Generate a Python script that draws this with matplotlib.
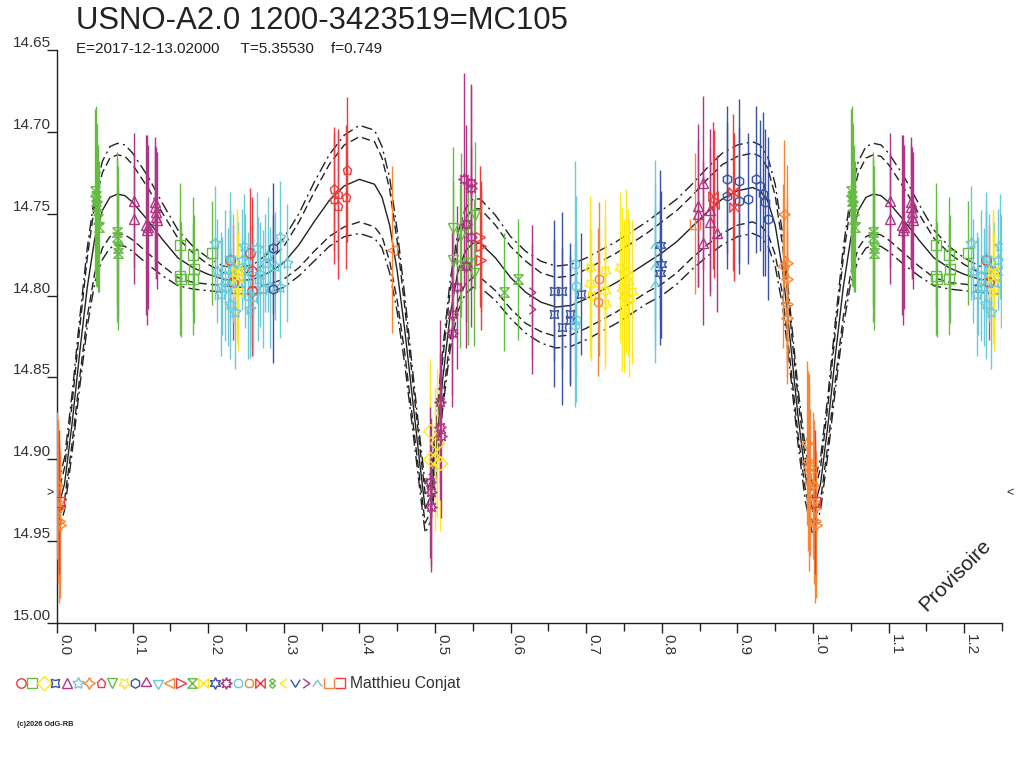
import numpy as np
import matplotlib
matplotlib.use("Agg")
import matplotlib.pyplot as plt
from matplotlib.ticker import MultipleLocator, FormatStrFormatter

plt.rcParams['font.family'] = ['Liberation Sans', 'DejaVu Sans']

TITLE = "USNO-A2.0 1200-3423519=MC105"
SUBTITLE = "E=2017-12-13.02000     T=5.35530    f=0.749"
OBSERVER = "Matthieu Conjat"
COPYRIGHT = "(c)2026 OdG-RB"

# mean light curve over one phase, with the two envelopes (dashed, dash-dot)
curve_phase = [0.00, 0.01, 0.02, 0.03, 0.04, 0.05, 0.06, 0.07, 0.08, 0.09,
               0.10, 0.12, 0.14, 0.16, 0.18, 0.20, 0.22, 0.24, 0.26, 0.28,
               0.30, 0.32, 0.34, 0.36, 0.38, 0.40, 0.42, 0.43, 0.44, 0.45,
               0.46, 0.47, 0.48, 0.487, 0.495, 0.50, 0.51, 0.52, 0.53, 0.54,
               0.55, 0.56, 0.58, 0.60, 0.62, 0.64, 0.66, 0.68, 0.70, 0.72,
               0.74, 0.76, 0.78, 0.80, 0.82, 0.84, 0.86, 0.88, 0.90, 0.92,
               0.93, 0.94, 0.95, 0.96, 0.97, 0.98, 0.99, 1.00]
curve_mag = [14.932, 14.915, 14.878, 14.835, 14.795, 14.765, 14.748, 14.740, 14.738, 14.739,
             14.743, 14.754, 14.766, 14.777, 14.783, 14.787, 14.790, 14.791, 14.790, 14.786,
             14.780, 14.769, 14.755, 14.742, 14.733, 14.729, 14.732, 14.740, 14.757, 14.785,
             14.821, 14.862, 14.903, 14.930, 14.922, 14.900, 14.852, 14.812, 14.786, 14.773,
             14.768, 14.768, 14.777, 14.789, 14.798, 14.804, 14.807, 14.806, 14.802, 14.797,
             14.792, 14.786, 14.780, 14.774, 14.767, 14.758, 14.749, 14.741, 14.736, 14.734,
             14.736, 14.742, 14.757, 14.785, 14.828, 14.873, 14.910, 14.932]
curve_sig1 = [0.008, 0.010, 0.012, 0.015, 0.018, 0.021, 0.023, 0.024, 0.024, 0.024,
              0.023, 0.020, 0.016, 0.012, 0.009, 0.006, 0.004, 0.004, 0.005, 0.007,
              0.010, 0.014, 0.018, 0.022, 0.025, 0.026, 0.026, 0.024, 0.022, 0.018,
              0.014, 0.012, 0.010, 0.009, 0.009, 0.010, 0.012, 0.015, 0.018, 0.020,
              0.021, 0.021, 0.020, 0.019, 0.019, 0.018, 0.018, 0.018, 0.018, 0.018,
              0.018, 0.018, 0.018, 0.019, 0.019, 0.019, 0.020, 0.021, 0.021, 0.021,
              0.021, 0.020, 0.018, 0.015, 0.013, 0.011, 0.009, 0.008]
curve_sig2 = [0.015, 0.016, 0.018, 0.021, 0.024, 0.027, 0.030, 0.031, 0.031, 0.031,
              0.030, 0.027, 0.022, 0.017, 0.013, 0.010, 0.008, 0.008, 0.009, 0.012,
              0.015, 0.019, 0.024, 0.028, 0.031, 0.033, 0.033, 0.031, 0.029, 0.025,
              0.021, 0.018, 0.016, 0.015, 0.015, 0.016, 0.018, 0.021, 0.024, 0.026,
              0.027, 0.027, 0.026, 0.025, 0.025, 0.025, 0.025, 0.025, 0.025, 0.025,
              0.025, 0.025, 0.025, 0.026, 0.026, 0.026, 0.027, 0.028, 0.028, 0.028,
              0.028, 0.027, 0.025, 0.022, 0.019, 0.017, 0.016, 0.015]

# observations: symbol index, phase, magnitude, error
obs_series = ([6] * 16 + [28] + [15] * 12 + [4] * 17 + [1] * 7 + [5] * 28 + [0] * 5
              + [16] * 3 + [10] * 12 + [7] * 6 + [13] + [18] * 15 + [2] * 5 + [8] * 7
              + [14] * 3 + [25] * 2 + [3] * 7 + [19] * 4 + [9] * 13 + [20] * 2
              + [26] * 3 + [17] * 3 + [27] + [21] * 4)
obs_phase = [
    0.000, 0.001, 0.002, 0.003, 0.004, 0.961, 0.966, 0.960, 0.966, 0.966, 0.965,
    0.992, 0.993, 0.995, 0.995, 0.996,
    0.003,
    0.050, 0.051, 0.052, 0.053, 0.054, 0.055, 0.080, 0.080, 0.081, 0.081, 0.591, 0.610,
    0.102, 0.102, 0.118, 0.119, 0.120, 0.130, 0.130, 0.131, 0.131, 0.132,
    0.848, 0.848, 0.855, 0.855, 0.864, 0.864, 0.873,
    0.163, 0.163, 0.164, 0.180, 0.181, 0.180, 0.205,
    0.209, 0.211, 0.217, 0.218, 0.226, 0.229, 0.229, 0.233, 0.240, 0.245,
    0.249, 0.252, 0.255, 0.259, 0.264, 0.266, 0.269, 0.272, 0.275, 0.279,
    0.282, 0.288, 0.295, 0.295, 0.304, 0.222, 0.236, 0.247,
    0.229, 0.233, 0.255, 0.258, 0.258,
    0.238, 0.238, 0.239,
    0.286, 0.286, 0.886, 0.886, 0.902, 0.902, 0.914, 0.925, 0.930, 0.934, 0.937, 0.940,
    0.366, 0.366, 0.372, 0.372, 0.382, 0.384,
    0.443,
    0.494, 0.495, 0.495, 0.506, 0.507, 0.508, 0.522, 0.522, 0.529, 0.538,
    0.547, 0.547, 0.541, 0.547, 0.541,
    0.493, 0.502, 0.493, 0.500, 0.506,
    0.524, 0.535, 0.553, 0.524, 0.533, 0.543, 0.552,
    0.560, 0.561, 0.561,
    0.628, 0.628,
    0.657, 0.668, 0.657, 0.668, 0.679, 0.679, 0.693,
    0.685, 0.686, 0.686, 0.685,
    0.705, 0.705, 0.706, 0.725, 0.725, 0.725, 0.745, 0.748, 0.750, 0.752,
    0.755, 0.757, 0.760,
    0.717, 0.716,
    0.791, 0.791, 0.791,
    0.798, 0.799, 0.797,
    0.844,
    0.868, 0.869, 0.894, 0.895,
]
obs_mag = [
    14.916, 14.926, 14.930, 14.938, 14.940, 14.750, 14.780, 14.782, 14.790, 14.805, 14.814,
    14.890, 14.901, 14.905, 14.908, 14.914,
    14.926,
    14.736, 14.739, 14.742, 14.745, 14.753, 14.758, 14.761, 14.764, 14.771, 14.774, 14.798, 14.790,
    14.742, 14.753, 14.757, 14.760, 14.758, 14.743, 14.746, 14.749, 14.752, 14.754,
    14.745, 14.750, 14.731, 14.768, 14.748, 14.755, 14.762,
    14.769, 14.788, 14.790, 14.775, 14.784, 14.790, 14.774,
    14.768, 14.785, 14.799, 14.794, 14.795, 14.805, 14.777, 14.783, 14.792, 14.778,
    14.785, 14.800, 14.808, 14.801, 14.771, 14.790, 14.787, 14.796, 14.780, 14.775,
    14.795, 14.782, 14.764, 14.795, 14.780, 14.788, 14.810, 14.770,
    14.778, 14.792, 14.774, 14.785, 14.797,
    14.785, 14.789, 14.798,
    14.771, 14.796, 14.729, 14.739, 14.730, 14.742, 14.741, 14.729, 14.733, 14.738, 14.743, 14.753,
    14.735, 14.741, 14.738, 14.745, 14.740, 14.723,
    14.772,
    14.914, 14.920, 14.929, 14.865, 14.880, 14.886, 14.823, 14.811, 14.795, 14.729,
    14.731, 14.734, 14.756, 14.764, 14.782,
    14.883, 14.890, 14.900, 14.900, 14.902,
    14.759, 14.763, 14.751, 14.778, 14.782, 14.780, 14.786,
    14.764, 14.770, 14.778,
    14.798, 14.808,
    14.797, 14.797, 14.811, 14.819, 14.811, 14.815, 14.799,
    14.781, 14.794, 14.815, 14.818,
    14.783, 14.793, 14.800, 14.785, 14.797, 14.805, 14.783, 14.796, 14.800, 14.785,
    14.792, 14.802, 14.798,
    14.790, 14.804,
    14.769, 14.782, 14.793,
    14.769, 14.781, 14.786,
    14.756,
    14.739, 14.744, 14.737, 14.746,
]
obs_err = [
    0.045, 0.050, 0.040, 0.050, 0.045, 0.045, 0.060, 0.050, 0.050, 0.045, 0.040,
    0.050, 0.055, 0.050, 0.060, 0.045,
    0.044,
    0.050, 0.055, 0.048, 0.050, 0.045, 0.040, 0.045, 0.052, 0.050, 0.040, 0.036, 0.037,
    0.041, 0.040, 0.055, 0.058, 0.050, 0.040, 0.038, 0.040, 0.038, 0.042,
    0.050, 0.045, 0.053, 0.050, 0.050, 0.045, 0.048,
    0.038, 0.036, 0.035, 0.035, 0.033, 0.034, 0.032,
    0.035, 0.032, 0.038, 0.030, 0.036, 0.034, 0.040, 0.033, 0.037, 0.031,
    0.035, 0.039, 0.030, 0.036, 0.034, 0.038, 0.032, 0.036, 0.030, 0.035,
    0.037, 0.033, 0.034, 0.031, 0.036, 0.040, 0.035, 0.032,
    0.030, 0.035, 0.040, 0.045, 0.040,
    0.038, 0.040, 0.036,
    0.040, 0.045, 0.045, 0.045, 0.050, 0.045, 0.040, 0.045, 0.040, 0.050, 0.045, 0.050,
    0.038, 0.040, 0.040, 0.045, 0.044, 0.044,
    0.051,
    0.046, 0.045, 0.040, 0.050, 0.045, 0.050, 0.045, 0.050, 0.050, 0.065,
    0.060, 0.062, 0.060, 0.055, 0.050,
    0.044, 0.045, 0.040, 0.044, 0.042,
    0.050, 0.050, 0.045, 0.048, 0.050, 0.050, 0.045,
    0.043, 0.040, 0.043,
    0.041, 0.040,
    0.043, 0.048, 0.045, 0.048, 0.043, 0.040, 0.037,
    0.063, 0.055, 0.050, 0.050,
    0.044, 0.045, 0.040, 0.044, 0.045, 0.040, 0.046, 0.050, 0.047, 0.050,
    0.045, 0.048, 0.044,
    0.047, 0.045,
    0.052, 0.050, 0.048,
    0.046, 0.045, 0.044,
    0.043,
    0.045, 0.045, 0.048, 0.045,
]

PALETTE = ['#ee3b3b', '#66bb44', '#ffe81a', '#3a52a4', '#b03585', '#6cc9d8', '#f5873a']
MARKERS = [
    'o', 's', 'D', (4, 1, 45), '^', (5, 1, 0), (4, 1, 0), 'p', 'v', (5, 1, 180),
    'h', (3, 1, 0), (3, 1, 180), '<', '>',
    [(-1, 1), (1, 1), (-1, -1), (1, -1), (-1, 1)],
    [(-1, 1), (-1, -1), (1, 1), (1, -1), (-1, 1)],
    (6, 1, 0), (8, 1, 0), '8', '8',
    [(-1, 1), (-1, -1), (1, 1), (1, -1), (-1, 1)],
    [(0, 1), (-0.6, 0.5), (0.6, -0.5), (0, -1), (-0.6, -0.5), (0.6, 0.5), (0, 1)],
    [(0.7, 1), (-0.7, 0), (0.7, -1)],
    [(-1, 0.8), (0, -0.8), (1, 0.8)],
    [(-0.7, 1), (0.7, 0), (-0.7, -1)],
    [(-1, -0.7), (0, 0.7), (1, -0.7)],
    [(-1, 1), (-1, -1), (1, -1), (1, 1)],
    [(-1, 1), (1, 1), (1, -1), (-1, -1)],
]
INK = '#222222'


def marker_size(mk):
    # star-type symbols look small at the same nominal size
    if isinstance(mk, tuple) and mk[1] == 1:
        return 8.5
    return 6.8


fig = plt.figure(figsize=(10.24, 7.68), dpi=100)
ax = fig.add_axes([57 / 1024, 145 / 768, 945 / 1024, 573 / 768])

# curve, repeated past phase 1
cp = np.array(curve_phase)
cm = np.array(curve_mag)
s1 = np.array(curve_sig1)
s2 = np.array(curve_sig2)
rep = cp <= 0.26
cp = np.concatenate([cp, cp[rep][1:] + 1])
cm = np.concatenate([cm, cm[rep][1:]])
s1 = np.concatenate([s1, s1[rep][1:]])
s2 = np.concatenate([s2, s2[rep][1:]])
ax.plot(cp, cm, color=INK, lw=1.0, zorder=3)
for sign in (-1, 1):
    ax.plot(cp, cm + sign * s1, color=INK, lw=1.0, ls=(0, (6, 3)), zorder=3)
    ax.plot(cp, cm + sign * s2, color=INK, lw=1.0, ls=(0, (8, 3, 1.5, 3)), zorder=3)

# observations, those with phase <= 0.25 repeated after phase 1
ser = np.array(obs_series)
ph = np.array(obs_phase)
mg = np.array(obs_mag)
er = np.array(obs_err)
wrap = ph <= 0.25
ser = np.concatenate([ser, ser[wrap]])
ph = np.concatenate([ph, ph[wrap] + 1])
mg = np.concatenate([mg, mg[wrap]])
er = np.concatenate([er, er[wrap]])

for s in np.unique(ser):
    m = ser == s
    col = PALETTE[s % 7]
    ax.vlines(ph[m], mg[m] - er[m], mg[m] + er[m], color=col, lw=1.0, zorder=4)
    ax.plot(ph[m], mg[m], ls='none', marker=MARKERS[s], ms=marker_size(MARKERS[s]),
            mfc='none', mec=col, mew=1.0, zorder=5)

ax.set_xlim(0, 1.25)
ax.set_ylim(15.00, 14.65)
for side in ('top', 'right'):
    ax.spines[side].set_visible(False)
for side in ('left', 'bottom'):
    ax.spines[side].set_color(INK)
    ax.spines[side].set_linewidth(1.0)

ax.xaxis.set_major_locator(MultipleLocator(0.1))
ax.xaxis.set_minor_locator(MultipleLocator(0.05))
ax.xaxis.set_major_formatter(FormatStrFormatter('%.1f'))
ax.yaxis.set_major_locator(MultipleLocator(0.05))
ax.yaxis.set_major_formatter(FormatStrFormatter('%.2f'))
ax.tick_params(axis='both', which='major', direction='out', length=7.2, width=1,
               color=INK, labelcolor='#333333', labelsize=11)
ax.tick_params(axis='x', which='minor', direction='out', length=5.8, width=1, color=INK)
ax.tick_params(axis='x', which='major', labelrotation=270, pad=1)
ax.tick_params(axis='y', which='major', pad=-2.9)
for lbl in ax.get_xticklabels():
    lbl.set_ha('left')
    lbl.set_va('top')
for lbl in ax.get_yticklabels():
    lbl.set_va('bottom')

ax.text(-0.005, 14.9206, '>', ha='right', va='center', fontsize=9, color=INK, clip_on=False)
ax.text(1.256, 14.9206, '<', ha='left', va='center', fontsize=9, color=INK, clip_on=False)
ax.text(0.950, 0.084, 'Provisoire', transform=ax.transAxes, rotation=45,
        ha='center', va='center', fontsize=15, color=INK)

fig.text(76 / 1024, 1 - 29 / 768, TITLE, fontsize=22.4, color=INK, va='baseline')
fig.text(76 / 1024, 1 - 53 / 768, SUBTITLE, fontsize=11, color=INK, va='baseline')

# symbol legend along the bottom
leg = fig.add_axes([0, 0, 1, 1], zorder=-1)
leg.set_xlim(0, 1024)
leg.set_ylim(768, 0)
leg.axis('off')
for i, mk in enumerate(MARKERS):
    leg.plot(21 + 11.4 * i, 683, ls='none', marker=mk, ms=marker_size(mk), mfc='none',
             mec=PALETTE[i % 7], mew=1.0)
leg.text(350, 688, OBSERVER, fontsize=11.3, color='#333333', va='baseline')
leg.text(17, 725, COPYRIGHT, fontsize=5.3, color=INK, va='center', fontweight='bold')

fig.savefig('out.png', dpi=100)
